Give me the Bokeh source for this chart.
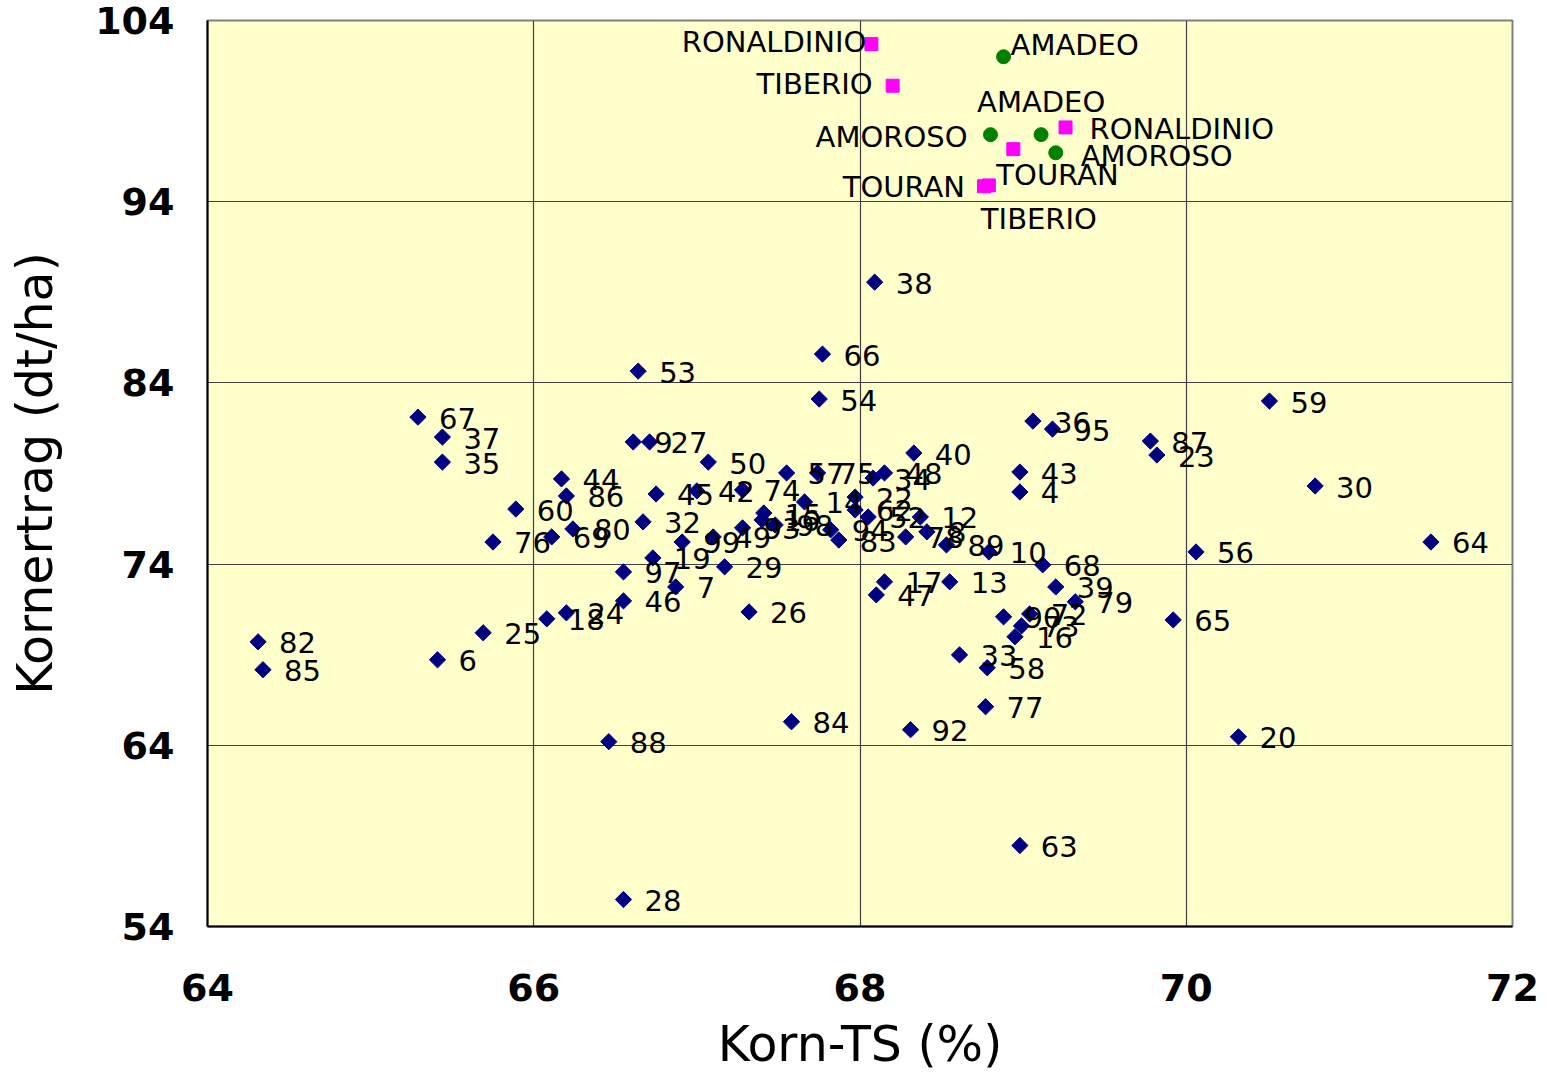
import numpy as np
from bokeh.plotting import figure
from bokeh.models import Range1d, FixedTicker, ColumnDataSource
from bokeh.core.properties import value, field
from bokeh.embed import file_html
from bokeh.resources import INLINE

# ---- numbered entries (Korn-TS %, Kornertrag dt/ha) ----
labels = ["38", "66", "53", "54", "67", "37", "35", "9", "27", "50",
          "44", "86", "60", "80", "69", "76", "45", "42", "74", "57",
          "75", "32", "99", "49", "93", "15", "16", "98", "14", "94",
          "83", "19", "97", "7", "29", "46", "18", "24", "25", "6",
          "82", "85", "88", "28", "26", "84", "34", "48", "40", "22",
          "62", "52", "12", "78", "8", "89", "10", "68", "43", "4",
          "36", "95", "87", "23", "59", "30", "56", "64", "17", "47",
          "13", "39", "79", "90", "72", "73", "16", "65", "33", "58",
          "77", "92", "63", "20"]
korn_ts = [68.09, 67.77, 66.64, 67.75, 65.29, 65.44, 65.44, 66.61, 66.71, 67.07,
           66.17, 66.20, 65.89, 66.24, 66.11, 65.75, 66.75, 67.00, 67.28, 67.55,
           67.74, 66.67, 66.91, 67.10, 67.28, 67.41, 67.40, 67.48, 67.66, 67.82,
           67.87, 66.73, 66.55, 66.87, 67.17, 66.55, 66.08, 66.20, 65.69, 65.41,
           64.31, 64.34, 66.46, 66.55, 67.32, 67.58, 68.08, 68.15, 68.33, 67.97,
           67.97, 68.05, 68.37, 68.28, 68.41, 68.53, 68.79, 69.12, 68.98, 68.98,
           69.06, 69.18, 69.78, 69.82, 70.51, 70.79, 70.06, 71.50, 68.15, 68.10,
           68.55, 69.20, 69.32, 68.88, 69.04, 68.99, 68.95, 69.92, 68.61, 68.78,
           68.77, 68.31, 68.98, 70.32]
ertrag = [89.56, 85.59, 84.65, 83.11, 82.11, 81.01, 79.63, 80.74, 80.74, 79.63,
          78.70, 77.76, 77.04, 75.94, 75.50, 75.22, 77.87, 78.04, 78.09, 79.03,
          79.03, 76.33, 75.22, 75.50, 76.00, 76.82, 76.44, 76.16, 77.43, 75.89,
          75.33, 74.34, 73.57, 72.74, 73.85, 71.97, 70.98, 71.31, 70.21, 68.72,
          69.71, 68.17, 64.20, 55.49, 71.36, 65.30, 78.75, 79.03, 80.13, 77.70,
          76.99, 76.60, 76.60, 75.50, 75.78, 75.06, 74.67, 73.96, 79.08, 77.98,
          81.89, 81.45, 80.79, 80.02, 83.00, 78.31, 74.67, 75.22, 73.02, 72.30,
          73.02, 72.74, 71.92, 71.09, 71.25, 70.59, 69.99, 70.92, 68.99, 68.28,
          66.13, 64.86, 58.47, 64.47]

# ---- named varieties, magenta squares ----
names_m = ["RONALDINIO", "TIBERIO", "RONALDINIO", "TOURAN", "TOURAN", "TIBERIO"]
ts_m = [68.07, 68.20, 69.26, 68.94, 68.76, 68.79]
ertrag_m = [102.7, 100.4, 98.1, 96.9, 94.85, 94.9]

# ---- named varieties, green circles ----
names_g = ["AMADEO", "AMOROSO", "AMADEO", "AMOROSO"]
ts_g = [68.88, 68.80, 69.11, 69.20]
ertrag_g = [102.0, 97.7, 97.7, 96.7]

x_ticks = [64, 66, 68, 70, 72]
y_ticks = [54, 64, 74, 84, 94, 104]
x_title = "Korn-TS (%)"
y_title = "Kornertrag (dt/ha)"

# label placement (pixels) for the named labels
m_dx = [-5, -20, 24, -17, -19, -8]
m_dy = [-2, -2, 2, 26, 1, 34]
m_al = ["right", "right", "left", "left", "right", "left"]
g_dx = [7, -23, -64, 25]
g_dy = [-12, 2, -33, 3]
g_al = ["left", "right", "left", "left"]

FONT = "DejaVu Sans"

p = figure(width=1540, height=1075,
           x_range=Range1d(x_ticks[0], x_ticks[-1]),
           y_range=Range1d(y_ticks[0], y_ticks[-1]),
           output_backend="svg", toolbar_location=None,
           min_border_left=207, min_border_right=28,
           min_border_top=20, min_border_bottom=149)

p.background_fill_color = "#FFFFCC"
p.border_fill_color = "white"
p.outline_line_color = "#808080"
p.outline_line_width = 2

for ax in (p.xaxis[0], p.yaxis[0]):
    ax.axis_line_color = "black"
    ax.axis_line_width = 2
    ax.major_tick_line_color = None
    ax.minor_tick_line_color = None
    ax.major_tick_out = 0
    ax.major_tick_in = 0
    ax.major_label_text_font = FONT
    ax.major_label_text_font_style = "bold"
    ax.major_label_text_font_size = "38px"
    ax.major_label_text_color = "black"
    ax.axis_label_text_font = FONT
    ax.axis_label_text_font_style = "normal"
    ax.axis_label_text_font_size = "49px"
    ax.axis_label_text_color = "black"

p.xaxis.ticker = FixedTicker(ticks=x_ticks)
p.yaxis.ticker = FixedTicker(ticks=y_ticks)
p.xaxis.axis_label = x_title
p.yaxis.axis_label = y_title
p.xaxis.major_label_standoff = 47
p.xaxis.axis_label_standoff = 12
p.yaxis.major_label_standoff = 33
p.yaxis.axis_label_standoff = 28

p.xgrid.ticker = FixedTicker(ticks=x_ticks)
p.ygrid.ticker = FixedTicker(ticks=y_ticks)
for g in (p.xgrid[0], p.ygrid[0]):
    g.grid_line_color = "#404040"
    g.grid_line_width = 1.2

# numbered points
src = ColumnDataSource(dict(x=korn_ts, y=ertrag, t=labels))
p.scatter("x", "y", source=src, marker="square", angle=np.pi / 4, size=11.5,
          fill_color="#000080", line_color="#000080")

# named points
src_m = ColumnDataSource(dict(x=ts_m, y=ertrag_m, t=names_m, dx=m_dx, dy=m_dy, al=m_al))
src_g = ColumnDataSource(dict(x=ts_g, y=ertrag_g, t=names_g, dx=g_dx, dy=g_dy, al=g_al))
p.scatter("x", "y", source=src_m, marker="square", size=13,
          fill_color="#FF00FF", line_color="#FF00FF")
p.scatter("x", "y", source=src_g, marker="circle", size=14,
          fill_color="#008000", line_color="#008000")

# labels
p.text("x", "y", text="t", source=src, x_offset=21, y_offset=1,
       text_baseline="middle", text_align="left",
       text_font=value(FONT), text_font_size="29px", text_color="black")
for s in (src_m, src_g):
    p.text("x", "y", text="t", source=s, x_offset="dx", y_offset="dy",
           text_baseline="middle", text_align=field("al"),
           text_font=value(FONT), text_font_size="29px", text_color="black")

open("out.html", "w").write(file_html(p, INLINE))
